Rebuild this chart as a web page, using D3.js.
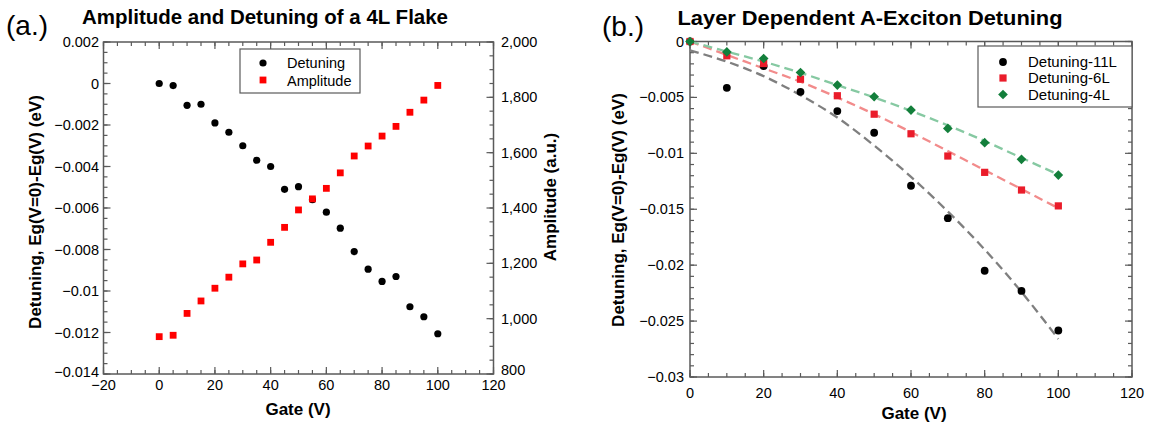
<!DOCTYPE html>
<html>
<head>
<meta charset="utf-8">
<script src="https://cdn.jsdelivr.net/npm/d3@7"></script>
<style>
  body { margin:0; background:#fff; }
  svg { display:block; font-family:"Liberation Sans", Arial, sans-serif; }
</style>
</head>
<body>
<div id="chart"></div>
<script>
// ---- panel (a) data ----
var gateA = [0,5,10,15,20,25,30,35,40,45,50,55,60,65,70,75,80,85,90,95,100];
var detuning4L = [0,-0.0001,-0.00105,-0.001,-0.0019,-0.00235,-0.003,-0.0037,-0.004,-0.0051,-0.00497,
                  -0.0056,-0.0062,-0.00697,-0.0081,-0.00895,-0.00954,-0.0093,-0.01076,-0.01124,-0.01206];
var amplitude4L = [935,940,1019,1064,1110,1150,1198,1212,1276,1330,1393,1433,1471,1527,1588,1624,1660,1695,1746,1790,1843];

// ---- panel (b) data ----
var gateB = [0,10,20,30,40,50,60,70,80,90,100];
var det11L = [0,-0.00414,-0.0022,-0.0045,-0.00622,-0.00816,-0.0129,-0.0158,-0.0205,-0.0223,-0.02584];
var det6L  = [0,-0.00128,-0.00197,-0.00337,-0.00485,-0.0065,-0.00825,-0.01024,-0.0117,-0.01328,-0.0147];
var det4L  = [0,-0.00093,-0.00152,-0.00277,-0.0039,-0.00494,-0.00613,-0.00777,-0.00905,-0.01054,-0.01194];
// dashed fit curves at the same gate values
var fit11L = [-0.0008,-0.0018,-0.0031,-0.0048,-0.0068,-0.0093,-0.0121,-0.0152,-0.0186,-0.0224,-0.0266];
var fit6L  = [0,-0.0012,-0.0024,-0.0036,-0.0050,-0.0065,-0.0081,-0.0098,-0.0115,-0.0132,-0.0149];
var fit4L  = [0,-0.0009,-0.0018,-0.0028,-0.0039,-0.0050,-0.0062,-0.0075,-0.0089,-0.0104,-0.0119];

var axisCol = "#5a5a5a";
var W = 1151, H = 425;

var svg = d3.select("#chart").append("svg").attr("width", W).attr("height", H);

function minus(s){ return s.replace("-", "\u2212"); }
function fmtSmall(d){ return d === 0 ? "0" : minus(String(+d.toFixed(4))); }

// boxed frame with inward ticks on all four sides
function frame(g, x, y, xMaj, xMin, yMaj, yMin, yR, yRMaj, yRMin){
  var x0 = x.range()[0], x1 = x.range()[1], y0 = y.range()[1], y1 = y.range()[0];
  g.append("rect").attr("x", x0).attr("y", y0).attr("width", x1-x0).attr("height", y1-y0)
    .attr("fill","none").attr("stroke", axisCol).attr("stroke-width", 1.5);
  var t = g.append("g").attr("stroke", axisCol).attr("stroke-width", 1.2);
  function tk(vals, len, horiz, scale, pos, dir){
    vals.forEach(function(v){
      var p = scale(v);
      if (horiz) t.append("line").attr("x1",p).attr("x2",p).attr("y1",pos).attr("y2",pos+dir*len);
      else t.append("line").attr("y1",p).attr("y2",p).attr("x1",pos).attr("x2",pos+dir*len);
    });
  }
  tk(xMaj, 7, true, x, y1, -1); tk(xMin, 4, true, x, y1, -1);
  tk(xMaj, 7, true, x, y0, 1);  tk(xMin, 4, true, x, y0, 1);
  tk(yMaj, 7, false, y, x0, 1); tk(yMin, 4, false, y, x0, 1);
  if (yR) { tk(yRMaj, 7, false, yR, x1, -1); tk(yRMin, 4, false, yR, x1, -1); }
  else { tk(yMaj, 7, false, y, x1, -1); tk(yMin, 4, false, y, x1, -1); }
}

function steps(a, b, s){ var r = []; for (var i = 0; a + i*s <= b + 1e-9; i++) r.push(+(a + i*s).toFixed(6)); return r; }

// ================= panel (a) =================
var ga = svg.append("g");
var xa = d3.scaleLinear().domain([-20,120]).range([103.5,493.5]);
var ya = d3.scaleLinear().domain([-0.014,0.002]).range([374,42]);
var ya2 = d3.scaleLinear().domain([800,2000]).range([374,42]);

frame(ga, xa, ya, steps(-20,120,20), steps(-20,120,5), steps(-0.014,0.002,0.002), steps(-0.014,0.002,0.0005),
      ya2, steps(800,2000,200), steps(800,2000,50));

ga.append("g").selectAll("text").data(steps(-20,120,20)).enter().append("text")
  .attr("x", function(d){ return xa(d); }).attr("y", 389.5).attr("text-anchor","middle")
  .attr("font-size", 14.5).text(function(d){ return minus(String(d)); });
ga.append("g").selectAll("text").data(steps(-0.014,0.002,0.002)).enter().append("text")
  .attr("x", 99).attr("y", function(d){ return ya(d) + 5 - (d === -0.014 ? 2 : 0); }).attr("text-anchor","end")
  .attr("font-size", 14.5).text(fmtSmall);
ga.append("g").selectAll("text").data(steps(800,2000,200)).enter().append("text")
  .attr("x", 501).attr("y", function(d){ return ya2(d) + 5 - (d === 800 ? 4 : 0); })
  .attr("font-size", 14.5).text(d3.format(","));

ga.append("text").attr("x", 6).attr("y", 35).attr("font-size", 28).text("(a.)");
ga.append("text").attr("x", 265).attr("y", 24).attr("text-anchor","middle").attr("font-size", 21)
  .attr("font-weight","bold").attr("textLength", 366).attr("lengthAdjust","spacingAndGlyphs")
  .text("Amplitude and Detuning of a 4L Flake");
ga.append("text").attr("x", 298).attr("y", 415).attr("text-anchor","middle").attr("font-size", 17)
  .attr("font-weight","bold").text("Gate (V)");
ga.append("text").attr("transform","translate(41,212) rotate(-90)").attr("text-anchor","middle")
  .attr("font-size", 17).attr("font-weight","bold").text("Detuning, Eg(V=0)-Eg(V) (eV)");
ga.append("text").attr("transform","translate(556,197) rotate(-90)").attr("text-anchor","middle")
  .attr("font-size", 17).attr("font-weight","bold").text("Amplitude (a.u.)");

ga.append("g").selectAll("circle").data(gateA).enter().append("circle")
  .attr("cx", function(d){ return xa(d); }).attr("cy", function(d,i){ return ya(detuning4L[i]); })
  .attr("r", 3.6).attr("fill", "#000");
ga.append("g").selectAll("rect").data(gateA).enter().append("rect")
  .attr("x", function(d){ return xa(d) - 3.4; }).attr("y", function(d,i){ return ya2(amplitude4L[i]) - 3.4; })
  .attr("width", 6.8).attr("height", 6.8).attr("fill", "#ff0000");

// legend (a)
var la = ga.append("g");
la.append("rect").attr("x",240).attr("y",49).attr("width",120).attr("height",44)
  .attr("fill","#fff").attr("stroke",axisCol).attr("stroke-width",1.2);
la.append("circle").attr("cx",263).attr("cy",63).attr("r",3.6).attr("fill","#000");
la.append("rect").attr("x",259.6).attr("y",76.6).attr("width",6.8).attr("height",6.8).attr("fill","#ff0000");
la.append("text").attr("x",287).attr("y",68).attr("font-size",14.5).text("Detuning");
la.append("text").attr("x",287).attr("y",85.5).attr("font-size",14.5).text("Amplitude");

// ================= panel (b) =================
var gb = svg.append("g");
var xb = d3.scaleLinear().domain([0,120]).range([690,1132]);
var yb = d3.scaleLinear().domain([-0.03,0]).range([377,41.5]);

frame(gb, xb, yb, steps(0,120,20), steps(0,120,5), steps(-0.03,0,0.005), steps(-0.03,0,0.001));

gb.append("g").selectAll("text").data(steps(0,120,20)).enter().append("text")
  .attr("x", function(d){ return xb(d); }).attr("y", 398).attr("text-anchor","middle")
  .attr("font-size", 14.5).text(function(d){ return String(d); });
gb.append("g").selectAll("text").data(steps(-0.03,0,0.005)).enter().append("text")
  .attr("x", 684).attr("y", function(d){ return yb(d) + 5; }).attr("text-anchor","end")
  .attr("font-size", 14.5).text(fmtSmall);

gb.append("text").attr("x", 602).attr("y", 36).attr("font-size", 28).text("(b.)");
gb.append("text").attr("x", 870).attr("y", 25).attr("text-anchor","middle").attr("font-size", 21)
  .attr("font-weight","bold").attr("textLength", 385).attr("lengthAdjust","spacingAndGlyphs")
  .text("Layer Dependent A-Exciton Detuning");
gb.append("text").attr("x", 914).attr("y", 419).attr("text-anchor","middle").attr("font-size", 17)
  .attr("font-weight","bold").text("Gate (V)");
gb.append("text").attr("transform","translate(624,210) rotate(-90)").attr("text-anchor","middle")
  .attr("font-size", 17).attr("font-weight","bold").text("Detuning, Eg(V=0)-Eg(V) (eV)");

var line = d3.line().curve(d3.curveMonotoneX)
  .x(function(d){ return xb(d[0]); }).y(function(d){ return yb(d[1]); });
var fits = [[fit11L, "#7f7f7f"], [fit6L, "#f28b8b"], [fit4L, "#86c9a2"]];
fits.forEach(function(f){
  gb.append("path").datum(gateB.map(function(g,i){ return [g, f[0][i]]; }))
    .attr("d", line).attr("fill","none").attr("stroke", f[1]).attr("stroke-width", 2.3)
    .attr("stroke-dasharray", "9,5");
});

gb.append("g").selectAll("circle").data(gateB).enter().append("circle")
  .attr("cx", function(d){ return xb(d); }).attr("cy", function(d,i){ return yb(det11L[i]); })
  .attr("r", 3.9).attr("fill", "#000");
gb.append("g").selectAll("rect").data(gateB).enter().append("rect")
  .attr("x", function(d){ return xb(d) - 3.6; }).attr("y", function(d,i){ return yb(det6L[i]) - 3.6; })
  .attr("width", 7.2).attr("height", 7.2).attr("fill", "#ea1c2a");
var diamond = d3.symbol().type(d3.symbolDiamond2).size(60);
gb.append("g").selectAll("path").data(gateB).enter().append("path")
  .attr("transform", function(d,i){ return "translate(" + xb(d) + "," + yb(det4L[i]) + ")"; })
  .attr("d", diamond).attr("fill", "#137f3b");

// legend (b)
var lb = gb.append("g");
lb.append("rect").attr("x",978).attr("y",46).attr("width",154).attr("height",61)
  .attr("fill","#fff").attr("stroke",axisCol).attr("stroke-width",1.2);
lb.append("circle").attr("cx",1003).attr("cy",62).attr("r",3.9).attr("fill","#000");
lb.append("rect").attr("x",999.4).attr("y",74.4).attr("width",7.2).attr("height",7.2).attr("fill","#ea1c2a");
lb.append("path").attr("transform","translate(1003,94.5)").attr("d", diamond).attr("fill","#137f3b");
var legTxt = ["Detuning-11L","Detuning-6L","Detuning-4L"];
lb.selectAll("text.lt").data(legTxt).enter().append("text").attr("class","lt")
  .attr("x",1028).attr("y", function(d,i){ return 67 + i*16.3; }).attr("font-size",15).text(function(d){ return d; });
</script>
</body>
</html>
